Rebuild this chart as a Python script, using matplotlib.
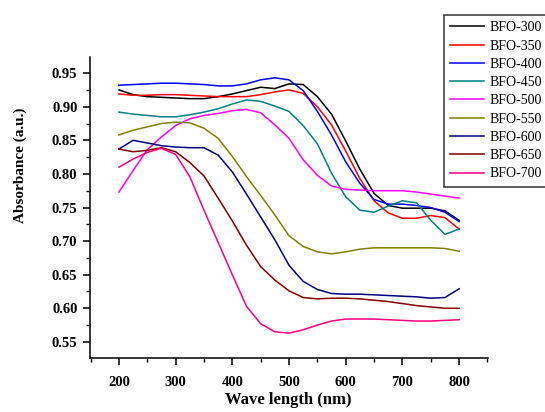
import numpy as np
import matplotlib
matplotlib.use('Agg')
import matplotlib.pyplot as plt
from matplotlib.ticker import MultipleLocator

plt.rcParams['font.family'] = ['Liberation Serif', 'DejaVu Serif']

# wavelength grid (nm)
wl = [200, 225, 250, 275, 300, 325, 350, 375, 400, 425, 450, 475, 500,
      525, 550, 575, 600, 625, 650, 675, 700, 725, 750, 775, 800]

bfo_300 = [0.925, 0.918, 0.915, 0.914, 0.913, 0.912, 0.912, 0.915, 0.919, 0.924, 0.929, 0.927, 0.934,
           0.933, 0.915, 0.889, 0.849, 0.807, 0.771, 0.753, 0.749, 0.749, 0.749, 0.745, 0.731]
bfo_350 = [0.919, 0.917, 0.917, 0.918, 0.918, 0.917, 0.916, 0.915, 0.915, 0.915, 0.918, 0.922, 0.925,
           0.920, 0.900, 0.873, 0.834, 0.793, 0.760, 0.742, 0.734, 0.734, 0.738, 0.735, 0.718]
bfo_400 = [0.932, 0.933, 0.934, 0.935, 0.935, 0.934, 0.933, 0.931, 0.931, 0.934, 0.940, 0.943, 0.940,
           0.924, 0.893, 0.858, 0.818, 0.786, 0.762, 0.755, 0.755, 0.753, 0.750, 0.743, 0.729]
bfo_450 = [0.892, 0.889, 0.887, 0.885, 0.885, 0.888, 0.892, 0.897, 0.904, 0.910, 0.908, 0.901, 0.893,
           0.872, 0.845, 0.801, 0.766, 0.746, 0.743, 0.752, 0.760, 0.757, 0.731, 0.710, 0.718]
bfo_500 = [0.773, 0.805, 0.836, 0.855, 0.872, 0.882, 0.887, 0.890, 0.894, 0.896, 0.891, 0.873, 0.853,
           0.821, 0.798, 0.782, 0.777, 0.776, 0.775, 0.775, 0.775, 0.773, 0.770, 0.767, 0.764]
bfo_550 = [0.858, 0.865, 0.870, 0.875, 0.877, 0.876, 0.868, 0.853, 0.826, 0.796, 0.768, 0.739, 0.708,
           0.692, 0.684, 0.681, 0.684, 0.688, 0.690, 0.690, 0.690, 0.690, 0.690, 0.689, 0.685]
bfo_600 = [0.837, 0.850, 0.846, 0.842, 0.840, 0.839, 0.839, 0.828, 0.803, 0.770, 0.736, 0.702, 0.664,
           0.640, 0.628, 0.622, 0.621, 0.621, 0.620, 0.619, 0.618, 0.617, 0.615, 0.616, 0.629]
bfo_650 = [0.837, 0.833, 0.835, 0.839, 0.833, 0.817, 0.797, 0.764, 0.730, 0.694, 0.662, 0.642, 0.626,
           0.616, 0.614, 0.615, 0.615, 0.614, 0.612, 0.610, 0.607, 0.604, 0.602, 0.600, 0.600]
bfo_700 = [0.810, 0.822, 0.832, 0.838, 0.829, 0.796, 0.746, 0.698, 0.650, 0.603, 0.577, 0.565, 0.563,
           0.568, 0.575, 0.581, 0.584, 0.584, 0.584, 0.583, 0.582, 0.581, 0.581, 0.582, 0.583]

labels = ['BFO-300', 'BFO-350', 'BFO-400', 'BFO-450', 'BFO-500',
          'BFO-550', 'BFO-600', 'BFO-650', 'BFO-700']
series = [bfo_300, bfo_350, bfo_400, bfo_450, bfo_500,
          bfo_550, bfo_600, bfo_650, bfo_700]
colors = ['#000000', '#ff0000', '#0000ff', '#008080', '#ff00ff',
          '#808000', '#000080', '#800000', '#ff0080']

fig = plt.figure(figsize=(5.45, 4.12), dpi=100)
ax = fig.add_axes([90/545, 1-358/412, 398/545, 301/412])

for y, lab, c in zip(series, labels, colors):
    ax.plot(wl, y, color=c, lw=1.1, label=lab)

ax.set_xlim(149, 851)
ax.set_ylim(0.526, 0.974)
ax.xaxis.set_major_locator(MultipleLocator(100))
ax.xaxis.set_minor_locator(MultipleLocator(50))
ax.yaxis.set_major_locator(MultipleLocator(0.05))
ax.yaxis.set_minor_locator(MultipleLocator(0.025))
ax.yaxis.set_major_formatter(plt.FormatStrFormatter('%.2f'))

for s in ['top', 'right']:
    ax.spines[s].set_visible(False)
for s in ['left', 'bottom']:
    ax.spines[s].set_linewidth(1.1)

ax.tick_params(which='major', direction='out', length=5, width=1.1)
ax.tick_params(which='minor', direction='out', length=3, width=1.0)
ax.tick_params(axis='y', pad=4)
ax.tick_params(axis='x', pad=8)
for t in ax.get_xticklabels() + ax.get_yticklabels():
    t.set_fontweight('bold')
    t.set_fontsize(10.5)

ax.set_xlabel('Wave length (nm)', fontsize=12, fontweight='bold', va='center')
ax.xaxis.set_label_coords(0.4975, -0.1395)
ax.set_ylabel('Absorbance (a.u.)', fontsize=11, fontweight='bold', va='center')
ax.yaxis.set_label_coords(-0.176, 0.641)

leg = fig.legend(loc='upper left', bbox_to_anchor=(444/545, 1-15/412),
                 borderaxespad=0, fontsize=10, frameon=True, fancybox=False,
                 handlelength=2.4, handletextpad=0.4, labelspacing=0.38,
                 borderpad=0.45)
leg.get_frame().set_edgecolor('black')
leg.get_frame().set_linewidth(1.1)

fig.savefig('out.png', dpi=100)
